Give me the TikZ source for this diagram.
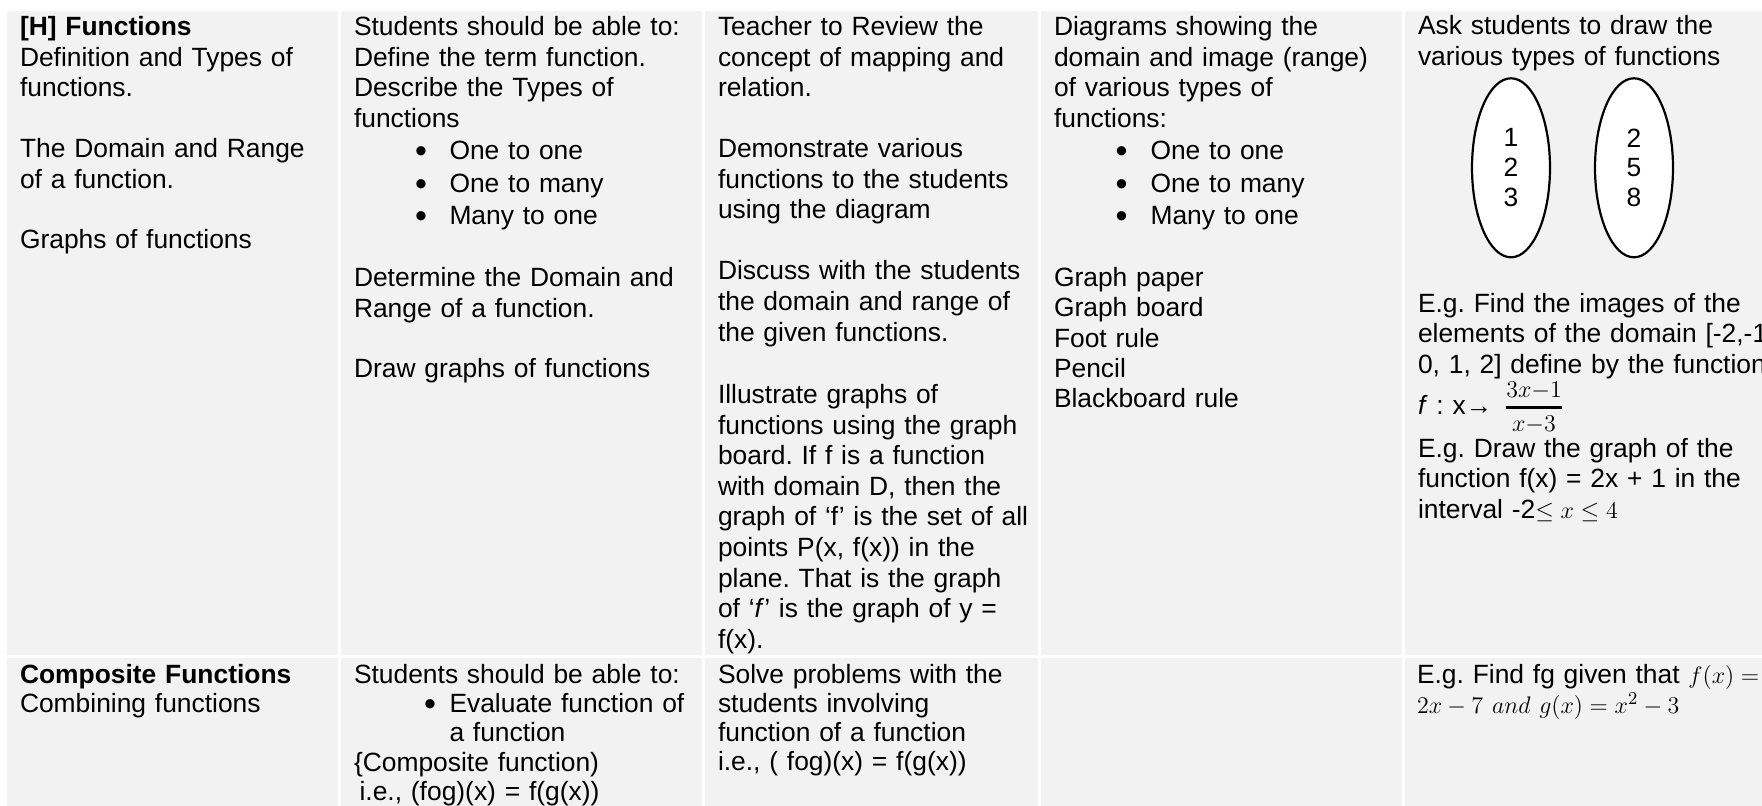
\documentclass[tikz,border=0pt]{standalone}
\usepackage[no-math]{fontspec}
\setmainfont{Liberation Sans}
\usetikzlibrary{shapes.geometric}
\definecolor{cellgray}{HTML}{F2F2F2}
\frenchspacing
\newcommand\bodyfont{\frenchspacing\fontsize{13.2pt}{15.3pt}\selectfont}
\newcommand\rowfont{\frenchspacing\fontsize{13.2pt}{14.65pt}\selectfont}
\newcommand\listfont{\frenchspacing\fontsize{13.2pt}{15.1pt}\selectfont}
\newcommand\fracfont{\fontsize{12pt}{13pt}\selectfont}
\newcommand\bulfont{\fontsize{17pt}{17pt}\selectfont}
\tikzset{
  cellbox/.style={fill=cellgray, draw=none},
  para/.style={anchor=base west, inner sep=0pt, outer sep=0pt, text width=158pt, align=left, font=\bodyfont},
  wide/.style={text width=172pt},
  item/.style={text width=124pt},
  last/.style={text width=200pt},
  paratwo/.style={para, font=\rowfont},
  paralist/.style={para, font=\listfont},
  bul/.style={anchor=base, inner sep=0pt, outer sep=0pt, font=\bulfont},
  fracpart/.style={anchor=base, inner sep=0pt, outer sep=0pt, font=\fracfont},
  setoval/.style={ellipse, draw, line width=1.1pt, fill=white, minimum width=39pt, minimum height=89.5pt, inner sep=0pt, align=center, font=\fontsize{13.2pt}{14.875pt}\selectfont},
}
\begin{document}
\begin{tikzpicture}[x=0.5pt,y=-0.5pt]
\useasboundingbox (0,0) rectangle (1762,806);
\clip (0,0) rectangle (1762,806);
\fill[white] (0,0) rectangle (1762,806);
% cells
\fill[cellbox] (6.5,11) rectangle (338,655);
\fill[cellbox] (341,11) rectangle (702,655);
\fill[cellbox] (705,11) rectangle (1038,655);
\fill[cellbox] (1041,11) rectangle (1402,655);
\fill[cellbox] (1405,11) rectangle (1770,655);
\fill[cellbox] (6.5,658) rectangle (338,812);
\fill[cellbox] (341,658) rectangle (702,812);
\fill[cellbox] (705,658) rectangle (1038,812);
\fill[cellbox] (1041,658) rectangle (1402,812);
\fill[cellbox] (1405,658) rectangle (1770,812);

% column 1, row 1
\node[para] (a1) at (20,35.7) {\textbf{[H] Functions}\\Definition and Types of\\functions.};
\node[para] (a2) at (20,157.5) {The Domain and Range\\of a function.};
\node[para] (a3) at (20,249) {Graphs of functions};

% column 2, row 1
\node[para, wide] (b1) at (354,35.7) {Students should be able to:\\Define the term function.\\Describe the Types of\\functions};
\node[bul] (b2d1) at (421,163) {•};
\node[bul] (b2d2) at (421,195.5) {•};
\node[bul] (b2d3) at (421,228) {•};
\node[para, item] (b2t1) at (449.5,160) {One to one};
\node[para, item] (b2t2) at (449.5,192.5) {One to many};
\node[para, item] (b2t3) at (449.5,225) {Many to one};
\node[para, wide] (b3) at (354,286.7) {Determine the Domain and\\Range of a function.};
\node[para, wide] (b4) at (354,378) {Draw graphs of functions};

% column 3, row 1
\node[para] (c1) at (718,35.7) {Teacher to Review the\\concept of mapping and\\relation.};
\node[para] (c2) at (718,157.5) {Demonstrate various\\functions to the students\\using the diagram};
\node[para] (c3) at (718,280) {Discuss with the students\\the domain and range of\\the given functions.};
\node[para] (c4) at (718,403.5) {Illustrate graphs of\\functions using the graph\\board. If f is a function\\with domain D, then the\\graph of ‘f’ is the set of all\\points P(x, f(x)) in the\\plane. That is the graph\\of ‘\textit{f}’ is the graph of y =\\f(x).};

% column 4, row 1
\node[para, wide] (d1) at (1054,35.7) {Diagrams showing the\\domain and image (range)\\of various types of\\functions:};
\node[bul] (d2d1) at (1121.5,163) {•};
\node[bul] (d2d2) at (1121.5,195.5) {•};
\node[bul] (d2d3) at (1121.5,228) {•};
\node[para, item] (d2t1) at (1150.5,160) {One to one};
\node[para, item] (d2t2) at (1150.5,192.5) {One to many};
\node[para, item] (d2t3) at (1150.5,225) {Many to one};
\node[paralist, wide] (d3) at (1054,286.7) {Graph paper\\Graph board\\Foot rule\\Pencil\\Blackboard rule};

% column 5, row 1
\node[para, last] (e1) at (1418,35) {Ask students to draw the\\various types of functions};
\node[setoval] (dom) at (1511,167.8) {1\\2\\3};
\node[setoval] (img) at (1634,167.8) {2\\5\\8};
\node[para, last] (e2) at (1418,312.3) {E.g. Find the images of the\\elements of the domain [-2,-1\\0, 1, 2] define by the function};
\node[para, text width=40pt] (e3) at (1418,415) {\textit{f} : x→};
\node[fracpart] (num) at (1534,397.5) {$3x{-}1$};
\node[fracpart] (den) at (1534,432) {$x{-}3$};
\draw[line width=1.35pt] (1506,407.3) -- (1562,407.3);
\node[para, last] (e4) at (1418,457.3) {E.g. Draw the graph of the\\function f(x) = 2x + 1 in the\\interval -2$\leq x \leq 4$};

% row 2
\node[paratwo] (f1) at (20,683) {\textbf{Composite Functions}\\Combining functions};
\node[paratwo, wide] (g1) at (354,683) {Students should be able to:};
\node[bul] (g2d) at (430,715.3) {•};
\node[paratwo, item] (g2t) at (449.5,712.3) {Evaluate function of\\a function};
\node[paratwo, wide] (g3) at (354,771) {\{Composite function)\\\hspace*{2.8pt}i.e., (fog)(x) = f(g(x))};
\node[paratwo] (h1) at (718,683) {Solve problems with the\\students involving\\function of a function\\i.e., ( fog)(x) = f(g(x))};
\node[para, last] (k1) at (1417,683) {E.g. Find fg given that $f(x) =$\\$2x-7\ and\ g(x)=x^2-3$};
\end{tikzpicture}
\end{document}
